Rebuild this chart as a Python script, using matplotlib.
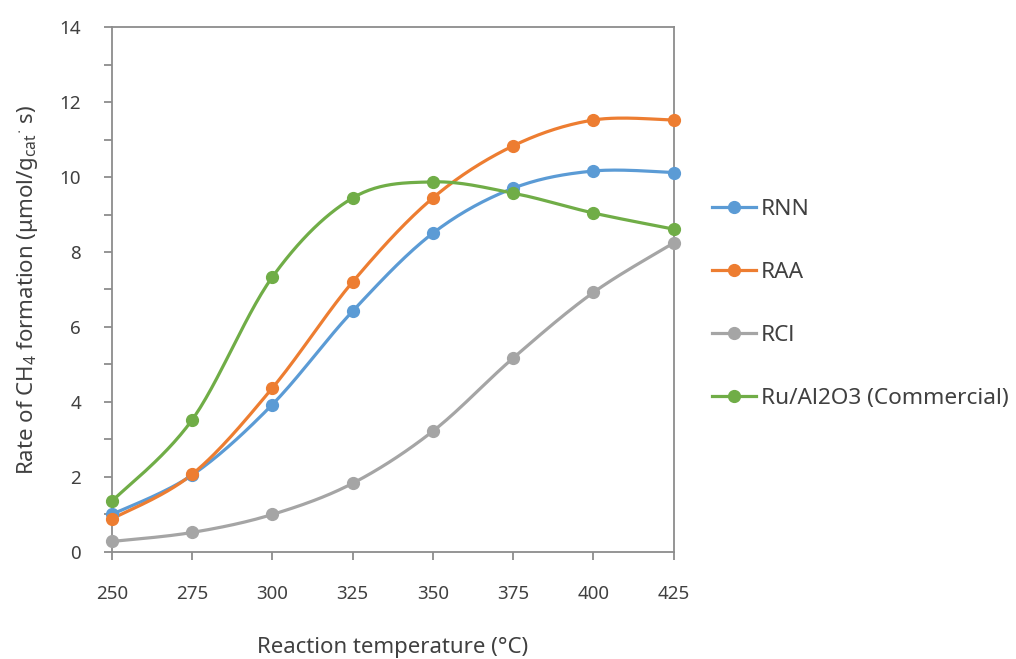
import numpy as np
import matplotlib
matplotlib.use("Agg")
import matplotlib.pyplot as plt
from matplotlib.lines import Line2D

plt.rcParams['font.family'] = ['Noto Sans', 'DejaVu Sans']
plt.rcParams['mathtext.fontset'] = 'custom'
plt.rcParams['mathtext.rm'] = 'Noto Sans'
plt.rcParams['mathtext.it'] = 'Noto Sans:italic'
plt.rcParams['mathtext.bf'] = 'Noto Sans:bold'

temps = [250, 275, 300, 325, 350, 375, 400, 425]
rnn = [1.0, 2.05, 3.93, 6.42, 8.5, 9.7, 10.16, 10.12]
raa = [0.88, 2.07, 4.37, 7.2, 9.44, 10.83, 11.52, 11.52]
rcl = [0.28, 0.52, 1.0, 1.83, 3.22, 5.17, 6.92, 8.24]
comm = [1.35, 3.52, 7.33, 9.44, 9.87, 9.57, 9.04, 8.61]

series = [
    ("RNN", rnn, "#5B9BD5"),
    ("RAA", raa, "#ED7D31"),
    ("RCl", rcl, "#A5A5A5"),
    ("Ru/Al2O3 (Commercial)", comm, "#70AD47"),
]


def smooth(x, y, n=30):
    x = np.asarray(x, float)
    y = np.asarray(y, float)
    xs, ys = [], []
    for i in range(len(x) - 1):
        p0 = np.array([x[max(i - 1, 0)], y[max(i - 1, 0)]])
        p1 = np.array([x[i], y[i]])
        p2 = np.array([x[i + 1], y[i + 1]])
        p3 = np.array([x[min(i + 2, len(x) - 1)], y[min(i + 2, len(x) - 1)]])
        c1 = p1 + (p2 - p0) / 6.0
        c2 = p2 - (p3 - p1) / 6.0
        t = np.linspace(0, 1, n)[:, None]
        b = ((1 - t) ** 3) * p1 + 3 * ((1 - t) ** 2) * t * c1 + 3 * (1 - t) * t ** 2 * c2 + t ** 3 * p2
        xs.extend(b[:, 0])
        ys.extend(b[:, 1])
    return np.array(xs), np.array(ys)


fig = plt.figure(figsize=(10.16, 6.59), dpi=100)
ax = fig.add_axes([0.110, 0.1624, 0.553, 0.7966])

handles = []
for name, vals, col in series:
    sx, sy = smooth(temps, vals)
    ax.plot(sx, sy, color=col, lw=2.3, solid_capstyle='round', zorder=2, clip_on=False)
    ax.plot(temps, vals, 'o', color=col, ms=8.5, zorder=3, clip_on=False)
    handles.append(Line2D([0], [0], color=col, lw=2.3, marker='o', ms=8.5))

ax.set_xlim(250, 425)
ax.set_ylim(0, 14)
ax.set_xticks(temps)
ax.set_yticks(np.arange(0, 15, 2))
ax.set_yticks(np.arange(0, 15, 1), minor=True)

spine_col = '#8C8C8C'
text_col = '#404040'
for s in ax.spines.values():
    s.set_color(spine_col)
    s.set_linewidth(1.3)
ax.tick_params(axis='both', which='both', direction='out', color=spine_col,
               width=1.3, length=6, labelsize=13.5, labelcolor=text_col)
ax.tick_params(axis='x', pad=18)
ax.tick_params(axis='y', pad=16)

ax.set_xlabel("Reaction temperature (°C)", fontsize=16, color=text_col, labelpad=24)
ax.set_ylabel("Rate of CH$_4$ formation ($\\mathbf{μ}$mol/g$_{\\mathrm{cat}}$$^{\\cdot}$ s)",
              fontsize=16, color=text_col, labelpad=14)

fig.legend(handles, [s[0] for s in series], loc='center left',
           bbox_to_anchor=(0.681, 0.539), frameon=False, fontsize=16.3,
           handlelength=1.95, handletextpad=0.2, labelspacing=1.86,
           labelcolor=text_col)

fig.savefig("out.png", dpi=100)
